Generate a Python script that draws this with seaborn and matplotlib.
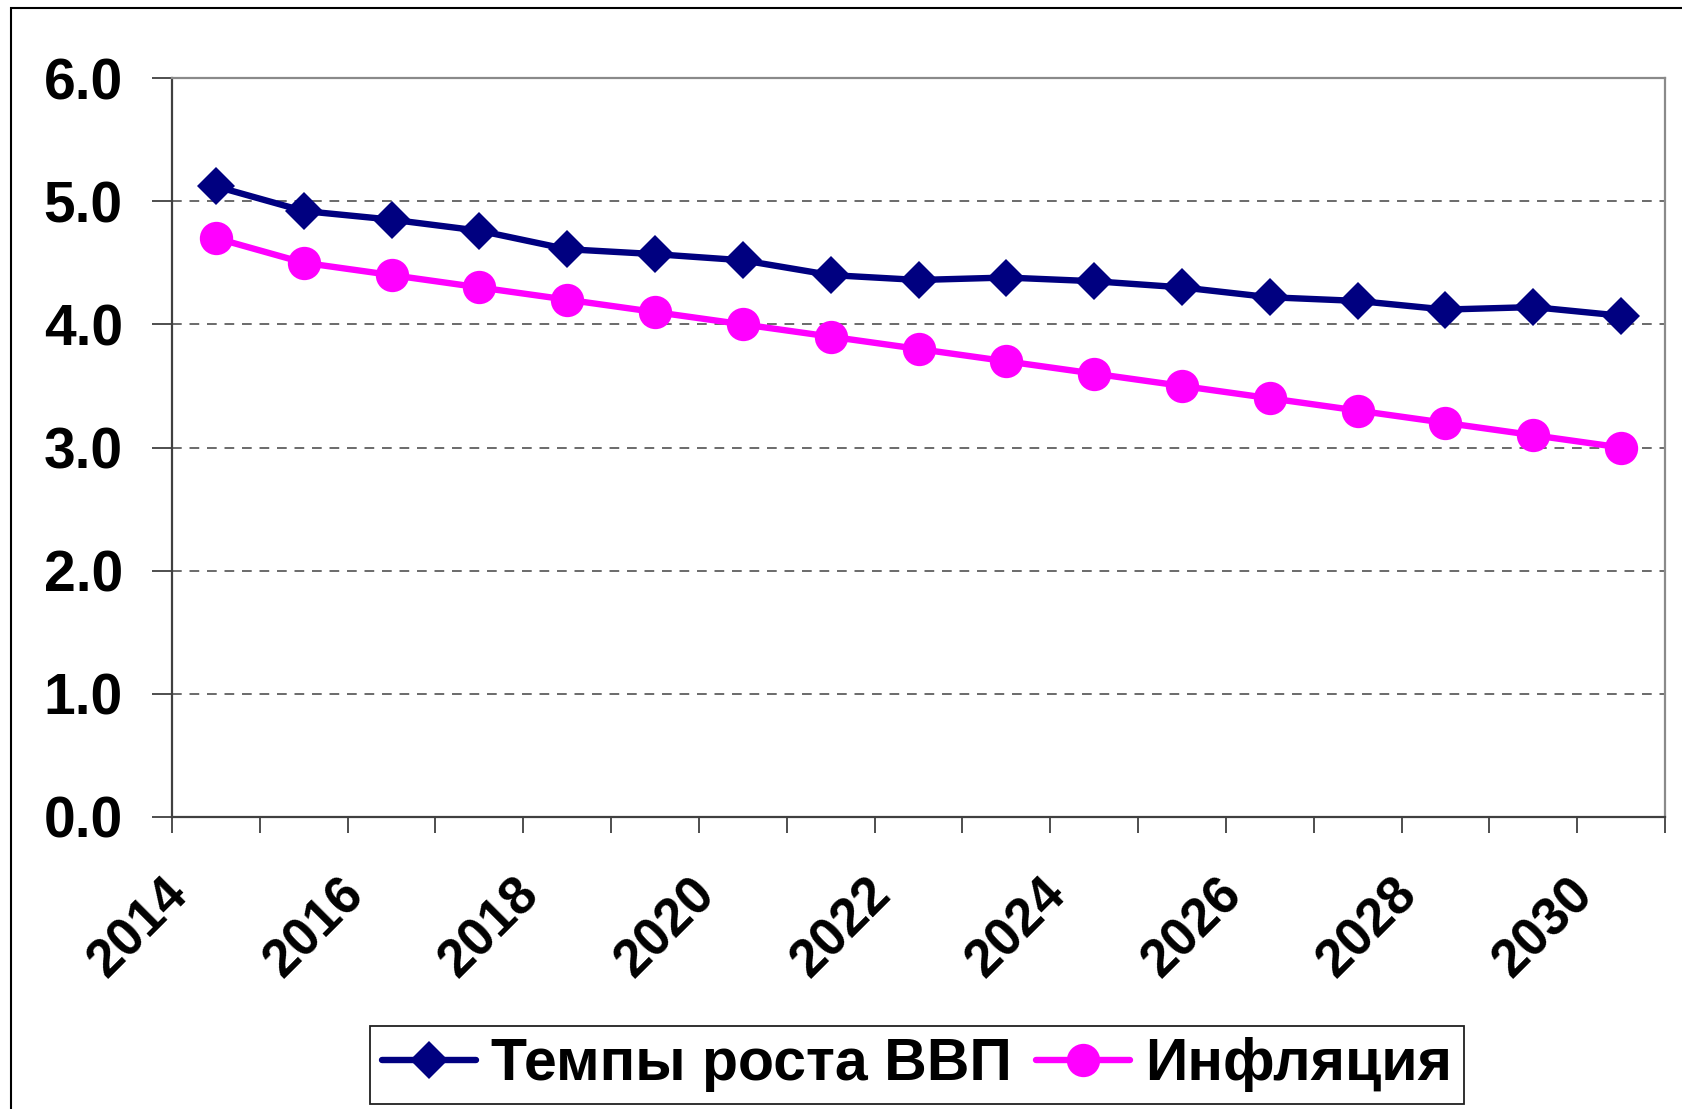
import matplotlib
matplotlib.use("Agg")
import matplotlib.pyplot as plt
import matplotlib.transforms as mtransforms
from matplotlib.patches import Rectangle
import seaborn as sns
import pandas as pd
import numpy as np

years = list(range(2014, 2031))
gdp_growth = [5.12, 4.92, 4.85, 4.76, 4.61, 4.57, 4.52, 4.40, 4.36, 4.38,
              4.35, 4.30, 4.22, 4.19, 4.12, 4.14, 4.07]
inflation = [4.7, 4.5, 4.4, 4.3, 4.2, 4.1, 4.0, 3.9, 3.8, 3.7,
             3.6, 3.5, 3.4, 3.3, 3.2, 3.1, 3.0]
series_names = ["Темпы роста ВВП", "Инфляция"]
label_years = [str(y) for y in range(2014, 2031, 2)]
y_ticks = [0, 1, 2, 3, 4, 5, 6]

sns.set_style("white")
plt.rcParams['font.family'] = ['Liberation Sans', 'DejaVu Sans']
plt.rcParams['font.weight'] = 'bold'
plt.rcParams['text.color'] = 'black'
plt.rcParams['xtick.labelcolor'] = 'black'
plt.rcParams['ytick.labelcolor'] = 'black'

W, H = 1682, 1109
fig = plt.figure(figsize=(W / 100, H / 100), dpi=100)
ax = fig.add_axes([172 / W, 1 - 817 / H, (1665 - 172) / W, (817 - 78) / H])

df_gdp = pd.DataFrame({"year": years, "value": gdp_growth})
df_inf = pd.DataFrame({"year": years, "value": inflation})

sns.lineplot(data=df_gdp, x="year", y="value", ax=ax, color="#000080",
             marker="D", markersize=19, markeredgewidth=0,
             label=series_names[0], zorder=3)
sns.lineplot(data=df_inf, x="year", y="value", ax=ax, color="#FF00FF",
             marker="o", markersize=24, markeredgewidth=0,
             label=series_names[1], zorder=3)
for line in ax.get_lines():
    line.set_linewidth(4.6)

ax.set_xlim(years[0] - 0.5, years[-1] + 0.5)
ax.set_ylim(0, 6)
ax.set_xlabel("")
ax.set_ylabel("")

# y axis
ax.set_yticks(y_ticks)
ax.set_yticklabels([f"{v:.1f}" for v in y_ticks], fontsize=41, fontweight='bold')
ax.tick_params(axis='y', direction='out', length=14.4, width=1.3, color='#404040',
               pad=21, left=True, labelcolor='black')
for v in y_ticks[1:-1]:
    ax.axhline(v, color='#6a6a6a', linewidth=1.4, linestyle=(0, (5, 4)), zorder=0)

# x axis: ticks at category boundaries, labels at every other category
bounds = [y - 0.5 for y in years] + [years[-1] + 0.5]
ax.set_xticks(bounds)
ax.set_xticklabels([])
ax.tick_params(axis='x', which='major', direction='out', length=11.5, width=1.3,
               color='#404040', bottom=True)
ax.set_xticks([int(s) for s in label_years], minor=True)
ax.set_xticklabels(label_years, minor=True, fontsize=38, fontweight='bold',
                   rotation=45, ha='right', va='center', rotation_mode='anchor')
ax.tick_params(axis='x', which='minor', length=0, pad=0, labelcolor='black')
offset = mtransforms.ScaledTranslation(-36 / 100, -70 / 100, fig.dpi_scale_trans)
for lab in ax.get_xticklabels(minor=True):
    lab.set_transform(lab.get_transform() + offset)

for side in ['left', 'bottom']:
    ax.spines[side].set_color('#404040')
    ax.spines[side].set_linewidth(1.6)
for side in ['top', 'right']:
    ax.spines[side].set_color('#8a8a8a')
    ax.spines[side].set_linewidth(1.6)
    ax.spines[side].set_visible(True)

# legend
ax.legend_.remove()
handles, labels = ax.get_legend_handles_labels()
leg = fig.legend(handles, labels, loc='center',
                 bbox_to_anchor=(917 / W, 1 - 1065 / H), ncol=2, frameon=True,
                 fancybox=False, edgecolor='#202020', framealpha=1,
                 prop={'size': 42.5, 'weight': 'bold'}, handlelength=1.6,
                 handletextpad=0.25, columnspacing=0.4, borderpad=0.2,
                 borderaxespad=0)
leg.get_frame().set_linewidth(1.3)
for t in leg.get_texts():
    t.set_color('black')
for h in leg.get_lines():
    h.set_linewidth(4.6)

# outer chart border (clipped at right and bottom)
fig.patches.append(Rectangle((11 / W, -0.1), 1.2, 1.1 - 8 / H, transform=fig.transFigure,
                             fill=False, edgecolor='black', linewidth=1.5,
                             clip_on=False))

fig.savefig("out.png", dpi=100)
